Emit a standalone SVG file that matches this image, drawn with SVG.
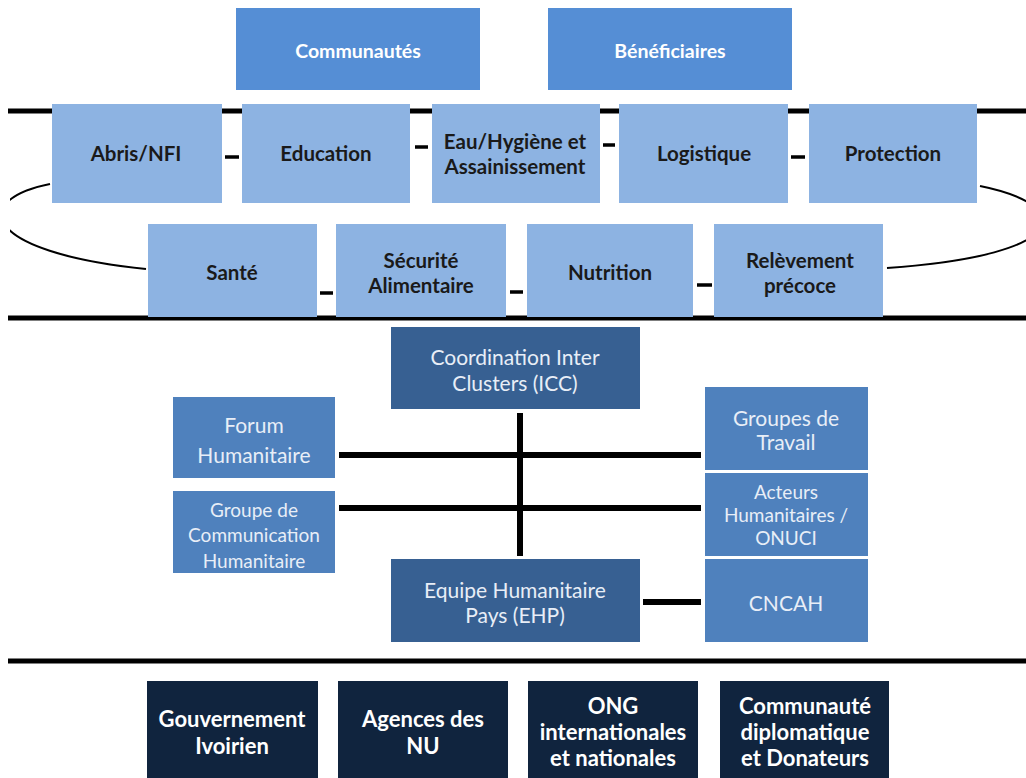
<svg xmlns="http://www.w3.org/2000/svg" width="1026" height="778" viewBox="0 0 1026 778">
<defs>
<clipPath id="clipc"><rect x="10" y="0" width="1016" height="778"/></clipPath>
</defs>
<style>
.top{fill:#558ED5;}
.cl{fill:#8DB3E2;}
.mid{fill:#4F81BD;}
.dk{fill:#376092;}
.bt{fill:#10243E;}
text{font-family:Lato,"Liberation Sans",sans-serif;text-anchor:middle;dominant-baseline:central;}
.tw{fill:#ffffff;font-weight:bold;font-size:19.5px;}
.tc{fill:#1a1a1a;font-weight:bold;font-size:20.5px;}
.tm{fill:#e8eef7;font-size:21px;}
.ts{fill:#e8eef7;font-size:19px;}
.tb{fill:#ffffff;font-weight:bold;font-size:22px;}
.thick{stroke:#000;stroke-width:5;fill:none;}
.dash{stroke:#000;stroke-width:3.5;fill:none;}
.curve{stroke:#000;stroke-width:2;fill:none;}
.conn{stroke:#000;stroke-width:6;fill:none;}
</style>
<rect width="1026" height="778" fill="#ffffff"/>
<g id="connectors">
<line class="thick" x1="8" y1="111" x2="1026" y2="111"/>
<line class="thick" x1="8" y1="318" x2="1026" y2="318"/>
<line class="thick" x1="8" y1="661" x2="1026" y2="661"/>
<g clip-path="url(#clipc)">
<path class="curve" d="M50,184 C-30,200 -20,252 146,269"/>
</g>
<path class="curve" d="M980,186 C1075,205 1075,255 887,268"/>
<line class="dash" x1="225" y1="157" x2="239" y2="157"/>
<line class="dash" x1="415" y1="147" x2="428" y2="147"/>
<line class="dash" x1="603" y1="145" x2="615" y2="145"/>
<line class="dash" x1="791" y1="157" x2="805" y2="157"/>
<line class="dash" x1="320" y1="293" x2="333" y2="293"/>
<line class="dash" x1="510" y1="292" x2="523" y2="292"/>
<line class="dash" x1="697" y1="285" x2="712" y2="285"/>
<line class="conn" x1="520" y1="413" x2="520" y2="556"/>
<line class="conn" x1="339" y1="455" x2="701" y2="455" stroke-width="5"/>
<line class="conn" x1="339" y1="508" x2="701" y2="508" stroke-width="5"/>
<line class="conn" x1="643" y1="602" x2="701" y2="602" stroke-width="5"/>
</g>
<g id="communautes"><rect class="top" x="236" y="8" width="244" height="82"/><text class="tw" x="358" y="50">Communautés</text></g>
<g id="beneficiaires"><rect class="top" x="548" y="8" width="244" height="82"/><text class="tw" x="670" y="50">Bénéficiaires</text></g>
<g id="abris"><rect class="cl" x="52" y="104" width="170" height="99"/><text class="tc" x="136" y="153">Abris/NFI</text></g>
<g id="education"><rect class="cl" x="242" y="104" width="168" height="99"/><text class="tc" x="326" y="153">Education</text></g>
<g id="eau"><rect class="cl" x="432" y="104" width="168" height="99"/><text class="tc" x="515" y="141">Eau/Hygiène et</text><text class="tc" x="515" y="166">Assainissement</text></g>
<g id="logistique"><rect class="cl" x="619" y="104" width="169" height="99"/><text class="tc" x="704" y="153">Logistique</text></g>
<g id="protection"><rect class="cl" x="809" y="104" width="168" height="99"/><text class="tc" x="893" y="153">Protection</text></g>
<g id="sante"><rect class="cl" x="148" y="224" width="169" height="93"/><text class="tc" x="232" y="272">Santé</text></g>
<g id="securite"><rect class="cl" x="336" y="224" width="170" height="93"/><text class="tc" x="421" y="260">Sécurité</text><text class="tc" x="421" y="285">Alimentaire</text></g>
<g id="nutrition"><rect class="cl" x="527" y="224" width="166" height="93"/><text class="tc" x="610" y="272">Nutrition</text></g>
<g id="relevement"><rect class="cl" x="714" y="224" width="169" height="93"/><text class="tc" x="800" y="260">Relèvement</text><text class="tc" x="800" y="285">précoce</text></g>
<g id="icc"><rect class="dk" x="391" y="327" width="249" height="82"/><text class="tm" x="515" y="356">Coordination Inter</text><text class="tm" x="515" y="382">Clusters (ICC)</text></g>
<g id="forum"><rect class="mid" x="173" y="397" width="162" height="81"/><text class="tm" x="254" y="424">Forum</text><text class="tm" x="254" y="454">Humanitaire</text></g>
<g id="groupecomm"><rect class="mid" x="173" y="491" width="162" height="82"/><text class="ts" x="254" y="509">Groupe de</text><text class="ts" x="254" y="534">Communication</text><text class="ts" x="254" y="560">Humanitaire</text></g>
<g id="groupestravail"><rect class="mid" x="705" y="387" width="163" height="83"/><text class="tm" x="786" y="417">Groupes de</text><text class="tm" x="786" y="441">Travail</text></g>
<g id="acteurs"><rect class="mid" x="705" y="473" width="163" height="83"/><text class="ts" x="786" y="491">Acteurs</text><text class="ts" x="786" y="514">Humanitaires /</text><text class="ts" x="786" y="537">ONUCI</text></g>
<g id="cncah"><rect class="mid" x="705" y="559" width="163" height="83"/><text class="tm" x="786" y="602">CNCAH</text></g>
<g id="ehp"><rect class="dk" x="391" y="559" width="249" height="83"/><text class="tm" x="515" y="589">Equipe Humanitaire</text><text class="tm" x="515" y="614">Pays (EHP)</text></g>
<g id="gouvernement"><rect class="bt" x="147" y="681" width="171" height="97"/><text class="tb" x="232" y="718">Gouvernement</text><text class="tb" x="232" y="745">Ivoirien</text></g>
<g id="agences"><rect class="bt" x="338" y="681" width="170" height="97"/><text class="tb" x="423" y="718">Agences des</text><text class="tb" x="423" y="745">NU</text></g>
<g id="ong"><rect class="bt" x="528" y="681" width="170" height="97"/><text class="tb" x="613" y="705">ONG</text><text class="tb" x="613" y="731">internationales</text><text class="tb" x="613" y="757">et nationales</text></g>
<g id="communaute"><rect class="bt" x="720" y="681" width="169" height="97"/><text class="tb" x="805" y="705">Communauté</text><text class="tb" x="805" y="731">diplomatique</text><text class="tb" x="805" y="757">et Donateurs</text></g>
</svg>
